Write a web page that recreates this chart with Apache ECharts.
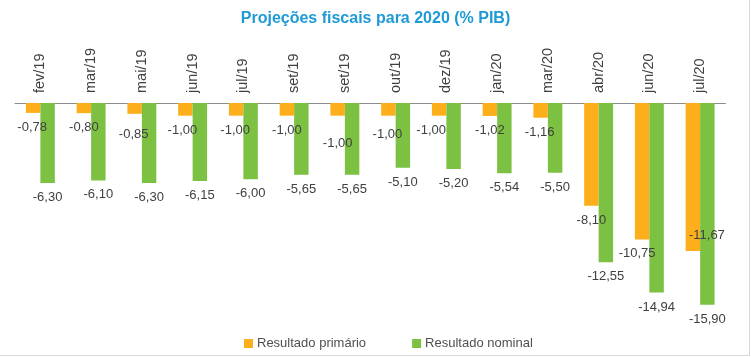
<!DOCTYPE html>
<html>
<head>
<meta charset="utf-8">
<script src="https://cdn.jsdelivr.net/npm/echarts@6/dist/echarts.min.js"></script>
<style>
html,body{margin:0;padding:0;background:#fff;}
#chart{width:751px;height:357px;}
#frame{position:absolute;left:0;top:0;width:749px;height:355px;border-right:1px solid #d9d9d9;border-bottom:1px solid #d9d9d9;pointer-events:none;}
</style>
</head>
<body>
<div id="chart"></div>
<div id="frame"></div>
<script>
const categories = ['fev/19','mar/19','mai/19','jun/19','jul/19','set/19','set/19','out/19','dez/19','jan/20','mar/20','abr/20','jun/20','jul/20'];
const primario = [-0.78,-0.80,-0.85,-1.00,-1.00,-1.00,-1.00,-1.00,-1.00,-1.02,-1.16,-8.10,-10.75,-11.67];
const nominal = [-6.30,-6.10,-6.30,-6.15,-6.00,-5.65,-5.65,-5.10,-5.20,-5.54,-5.50,-12.55,-14.94,-15.90];
// label nudges (style only)
const primLabelOffsets = [[-1,0],[0,0],[-1,6],[-3,0],[-1,0],[0,0],[0,13],[-1,4],[-8,0],[0,0],[-1,0],[0,0],[-5,0],[14,-30]];

const fmt = v => v.toFixed(2).replace('.', ',');
const font = 'Liberation Sans, Arial, sans-serif';

const chart = echarts.init(document.getElementById('chart'));
chart.setOption({
  animation: false,
  title: {
    text: 'Projeções fiscais para 2020 (% PIB)',
    left: 'center',
    top: 6,
    textStyle: {color: '#1E9AD6', fontSize: 16, fontWeight: 'bold', fontFamily: font}
  },
  legend: {
    left: 239,
    top: 332,
    itemWidth: 9,
    itemHeight: 9,
    itemGap: 46,
    icon: 'rect',
    textStyle: {color: '#505050', fontSize: 13, fontFamily: font, padding: [0,0,0,-1]},
    data: ['Resultado primário','Resultado nominal']
  },
  grid: {left: 15, right: 25.5, top: 103, bottom: 51},
  xAxis: {
    type: 'category',
    position: 'top',
    data: categories,
    axisLine: {lineStyle: {color: '#8c8c8c', width: 1}},
    axisTick: {length: 4, lineStyle: {color: '#8c8c8c'}},
    axisLabel: {rotate: 90, margin: 10, fontSize: 14.5, color: '#404040', fontFamily: font, interval: 0}
  },
  yAxis: {
    type: 'value',
    min: -16,
    max: 0,
    show: false,
    splitLine: {show: false}
  },
  series: [
    {
      name: 'Resultado primário',
      type: 'bar',
      barGap: '0%',
      barCategoryGap: '43%',
      itemStyle: {color: '#FDAE1B'},
      data: primario.map((v, i) => ({
        value: v,
        label: {offset: primLabelOffsets[i]}
      })),
      label: {
        show: true,
        position: 'bottom',
        distance: 8,
        fontSize: 13,
        color: '#404040',
        fontFamily: font,
        formatter: p => fmt(p.value)
      }
    },
    {
      name: 'Resultado nominal',
      type: 'bar',
      itemStyle: {color: '#7DC143'},
      data: nominal,
      label: {
        show: true,
        position: 'bottom',
        distance: 8,
        fontSize: 13,
        color: '#404040',
        fontFamily: font,
        formatter: p => fmt(p.value)
      }
    }
  ]
});
</script>
</body>
</html>
